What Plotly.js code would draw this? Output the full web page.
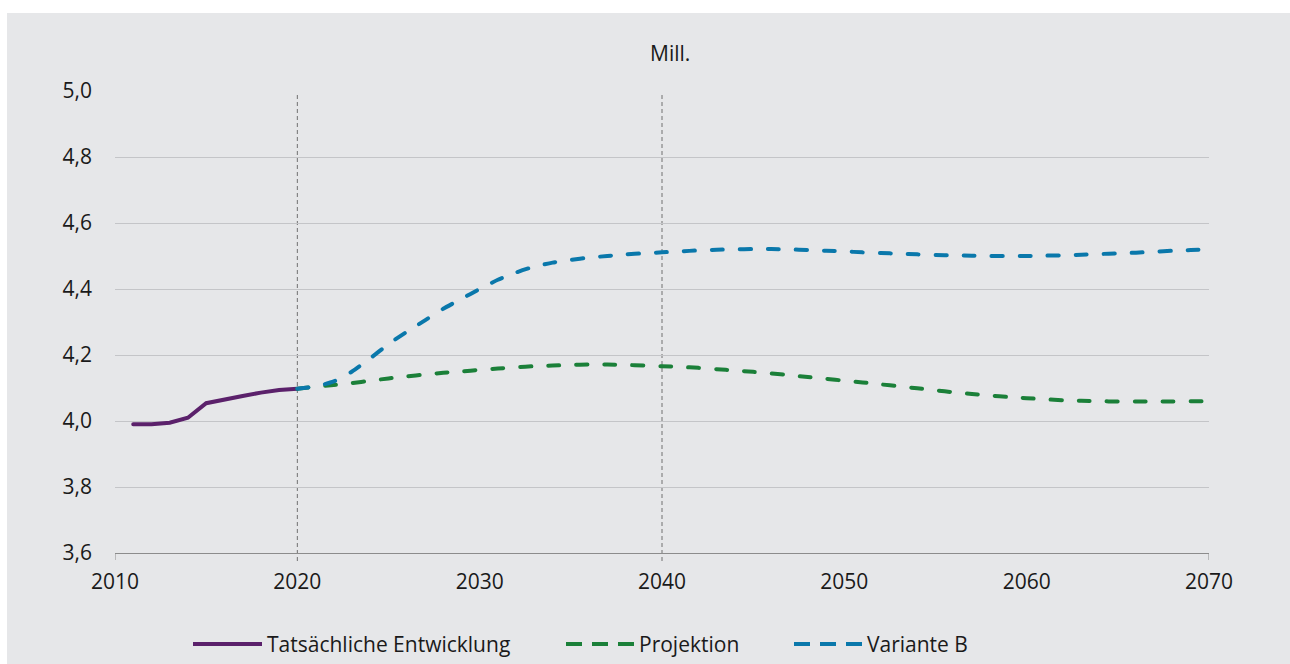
<!DOCTYPE html>
<html>
<head>
<meta charset="utf-8">
<script src="https://cdn.plot.ly/plotly-3.0.1.min.js"></script>
<style>
  html, body { margin: 0; padding: 0; background: #ffffff; }
  #chart { position: absolute; left: 7px; top: 13px; width: 1283px; height: 651px; }
  .scatterlayer path.js-line { stroke-linecap: round; }
</style>
</head>
<body>
<div id="chart"></div>
<script>
// ---- Data ----
const actualYears = [2011, 2012, 2013, 2014, 2015, 2016, 2017, 2018, 2019, 2020];
const actualValues = [3.990, 3.990, 3.995, 4.010, 4.054, 4.066, 4.076, 4.086, 4.094, 4.098];

const projYears = [2020, 2021, 2022, 2023, 2024, 2025, 2026, 2027, 2028, 2029,
                   2030, 2031, 2032, 2033, 2034, 2035, 2036, 2037, 2038, 2039,
                   2040, 2041, 2042, 2043, 2044, 2045, 2046, 2047, 2048, 2049,
                   2050, 2051, 2052, 2053, 2054, 2055, 2056, 2057, 2058, 2059,
                   2060, 2061, 2062, 2063, 2064, 2065, 2066, 2067, 2068, 2069, 2070];
const projValues = [4.098, 4.104, 4.109, 4.115, 4.122, 4.129, 4.135, 4.141, 4.146, 4.150,
                    4.155, 4.159, 4.163, 4.166, 4.168, 4.170, 4.171, 4.171, 4.170, 4.168,
                    4.166, 4.164, 4.161, 4.157, 4.153, 4.149, 4.144, 4.139, 4.133, 4.128,
                    4.122, 4.117, 4.111, 4.105, 4.099, 4.093, 4.087, 4.082, 4.077, 4.073,
                    4.069, 4.066, 4.063, 4.061, 4.060, 4.059, 4.059, 4.059, 4.059, 4.060, 4.060];

const varBYears = projYears;
const varBValues = [4.098, 4.105, 4.120, 4.150, 4.190, 4.233, 4.270, 4.305, 4.340, 4.370,
                    4.400, 4.428, 4.450, 4.468, 4.480, 4.488, 4.495, 4.500, 4.505, 4.508,
                    4.511, 4.514, 4.517, 4.519, 4.520, 4.521, 4.521, 4.520, 4.518, 4.516,
                    4.514, 4.511, 4.509, 4.507, 4.505, 4.503, 4.502, 4.501, 4.500, 4.500,
                    4.500, 4.501, 4.502, 4.504, 4.506, 4.508, 4.510, 4.513, 4.516, 4.518, 4.521];

const seriesNames = ["Tatsächliche Entwicklung", "Projektion", "Variante B"];
const markerYears = [2020, 2040];
const yTicks = [3.6, 3.8, 4.0, 4.2, 4.4, 4.6, 4.8, 5.0];
const xTicks = [2010, 2020, 2030, 2040, 2050, 2060, 2070];
const unitLabel = "Mill.";

// ---- Styles ----
const colPurple = "#5b216b";
const colGreen = "#1b8039";
const colBlue = "#0a78ab";
const fontFam = "'Open Sans', 'Noto Sans', sans-serif";
const txtCol = "#1a1a1a";
const fs = 21;

const traces = [
  { x: actualYears, y: actualValues, name: seriesNames[0], type: "scatter", mode: "lines",
    line: { color: colPurple, width: 4 }, showlegend: false },
  { x: projYears, y: projValues, name: seriesNames[1], type: "scatter", mode: "lines",
    line: { color: colGreen, width: 4, dash: "11px,17px", shape: "spline", smoothing: 0.6 }, showlegend: false },
  { x: varBYears, y: varBValues, name: seriesNames[2], type: "scatter", mode: "lines",
    line: { color: colBlue, width: 4, dash: "11px,17px", shape: "spline", smoothing: 0.6 }, showlegend: false }
];

// plot area geometry in page pixels (for legend placement)
const plotL = 115, plotR = 1209, plotT = 91, plotB = 553;
const pw = plotR - plotL, ph = plotB - plotT;
const px = v => (v - plotL) / pw;
const py = v => (plotB - v) / ph;

const shapes = [];
markerYears.forEach(yr => {
  shapes.push({ type: "line", xref: "x", yref: "paper", x0: yr, x1: yr, y0: py(561), y1: py(95),
    line: { color: "#707070", width: 1, dash: "4px,3px" }, layer: "below" });
});
[xTicks[0], xTicks[xTicks.length - 1]].forEach(yr => {
  shapes.push({ type: "line", xref: "x", yref: "paper", x0: yr, x1: yr, y0: 0, y1: py(560),
    line: { color: "#8c8c8c", width: 1 } });
});

// custom legend
const legendItems = [
  { name: seriesNames[0], color: colPurple, dash: "solid", x0: 193, x1: 262 },
  { name: seriesNames[1], color: colGreen, dash: "16px,10px", x0: 566, x1: 634 },
  { name: seriesNames[2], color: colBlue, dash: "16px,10px", x0: 794, x1: 862 }
];
const legendY = 644;
const annotations = [
  { text: unitLabel, xref: "paper", yref: "paper", x: px(670), y: py(53), showarrow: false,
    xanchor: "center", yanchor: "middle", font: { family: fontFam, size: fs, color: txtCol } }
];
legendItems.forEach(it => {
  shapes.push({ type: "line", xref: "paper", yref: "paper", x0: px(it.x0), x1: px(it.x1),
    y0: py(legendY), y1: py(legendY), line: { color: it.color, width: 4, dash: it.dash } });
  annotations.push({ text: it.name, xref: "paper", yref: "paper", x: px(it.x1 + 3), y: py(legendY),
    showarrow: false, xanchor: "left", yanchor: "middle",
    font: { family: fontFam, size: fs, color: txtCol } });
});

const layout = {
  width: 1283, height: 651,
  margin: { l: plotL - 7, r: 1283 - (plotR - 7), t: plotT - 13, b: 651 - (plotB - 13) },
  paper_bgcolor: "#e6e7e9",
  plot_bgcolor: "#e6e7e9",
  separators: ",.",
  showlegend: false,
  font: { family: fontFam, size: fs, color: txtCol },
  xaxis: {
    range: [2010, 2070], tickvals: xTicks, ticktext: xTicks.map(String),
    showgrid: false, zeroline: false, showline: true, linecolor: "#8c8c8c", linewidth: 1,
    ticks: "", ticklabelstandoff: 10, tickfont: { family: fontFam, size: fs, color: txtCol }
  },
  yaxis: {
    range: [3.6, 5.0], tickvals: yTicks, tickformat: ".1f",
    showgrid: true, gridcolor: "#c4c5c8", gridwidth: 1, zeroline: false, showline: false,
    ticks: "", ticklabelstandoff: 22, tickfont: { family: fontFam, size: fs, color: txtCol }
  },
  shapes: shapes,
  annotations: annotations
};

Plotly.newPlot("chart", traces, layout, { displayModeBar: false, staticPlot: true });
</script>
</body>
</html>
